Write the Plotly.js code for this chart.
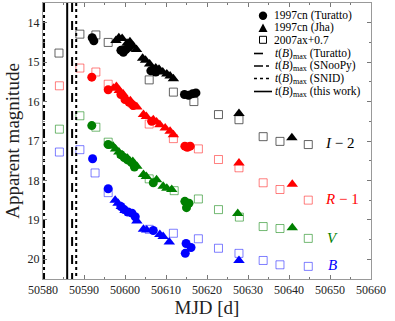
<!DOCTYPE html>
<html>
<head>
<meta charset="utf-8">
<script src="https://cdn.plot.ly/plotly-3.0.1.min.js"></script>
<style>body{margin:0;padding:0;background:#fff;} #plot{width:395px;height:321px;}</style>
</head>
<body>
<div id="plot"></div>
<script>
// plotted magnitudes (band offsets already applied: I-2, R-1, V, B)
var iTurMjd = [50592.0, 50592.4, 50599.0, 50599.6, 50600.2, 50601.0, 50606.3, 50607.0, 50607.5, 50614.5, 50615.5, 50616.5, 50617.3];
var iTurMag = [14.38, 14.46, 14.70, 14.75, 14.68, 14.62, 15.22, 15.18, 15.25, 15.82, 15.84, 15.80, 15.78];
var iJhaMjd = [50597.8, 50598.5, 50599.3, 50600.5, 50601.2, 50602.0, 50602.8, 50604.3, 50605.0, 50606.0, 50607.5, 50608.3, 50609.2, 50610.2, 50611.0, 50611.8, 50627.8, 50640.7];
var iJhaMag = [14.45, 14.38, 14.40, 14.52, 14.48, 14.60, 14.68, 14.90, 14.95, 15.05, 15.15, 15.18, 15.25, 15.30, 15.35, 15.42, 16.30, 16.92];
var iAxMjd = [50583.9, 50589.0, 50592.9, 50595.9, 50605.9, 50611.8, 50616.8, 50622.8, 50627.8, 50633.7, 50637.8, 50644.7];
var iAxMag = [14.77, 14.29, 14.31, 14.50, 15.45, 15.76, 16.00, 16.33, 16.46, 16.89, 17.01, 17.09];

var rTurMjd = [50591.9, 50595.9, 50599.0, 50600.0, 50601.0, 50602.0, 50606.5, 50614.6, 50615.2, 50615.9];
var rTurMag = [15.38, 15.70, 15.82, 15.95, 16.02, 16.10, 16.50, 17.13, 17.16, 17.13];
var rJhaMjd = [50597.2, 50597.9, 50598.6, 50599.5, 50600.4, 50601.3, 50602.1, 50602.9, 50604.5, 50605.2, 50606.9, 50607.7, 50608.5, 50609.8, 50611.0, 50611.8, 50627.8, 50640.8];
var rJhaMag = [15.66, 15.62, 15.72, 15.80, 15.95, 15.98, 16.08, 16.14, 16.33, 16.38, 16.46, 16.52, 16.59, 16.67, 16.75, 16.84, 17.56, 18.10];
var rAxMjd = [50584.0, 50589.0, 50592.9, 50595.9, 50605.9, 50611.8, 50617.9, 50622.8, 50627.8, 50633.7, 50637.8, 50644.7];
var rAxMag = [15.60, 15.15, 15.25, 15.56, 16.57, 16.94, 17.20, 17.47, 17.68, 18.06, 18.23, 18.50];

var vTurMjd = [50591.9, 50595.9, 50599.0, 50599.8, 50600.6, 50601.6, 50602.3, 50606.9, 50614.6, 50615.0, 50615.6];
var vTurMag = [16.61, 17.09, 17.35, 17.42, 17.48, 17.55, 17.66, 18.06, 18.53, 18.69, 18.58];
var vJhaMjd = [50597.1, 50597.7, 50598.5, 50599.4, 50600.6, 50601.9, 50602.9, 50604.5, 50605.2, 50607.7, 50609.3, 50610.2, 50611.4, 50627.5, 50640.8];
var vJhaMag = [17.13, 17.20, 17.28, 17.36, 17.44, 17.52, 17.64, 17.85, 17.90, 17.98, 18.15, 18.20, 18.23, 18.84, 19.20];
var vAxMjd = [50584.0, 50589.0, 50592.9, 50595.9, 50605.9, 50612.0, 50617.9, 50622.8, 50627.9, 50633.7, 50637.8, 50644.7];
var vAxMag = [16.70, 16.36, 16.65, 17.03, 17.96, 18.26, 18.47, 18.74, 18.93, 19.17, 19.22, 19.47];

var bTurMjd = [50592.1, 50595.9, 50599.0, 50599.8, 50600.7, 50601.7, 50602.5, 50606.9, 50614.9, 50616.1, 50614.7];
var bTurMag = [17.45, 18.21, 18.66, 18.74, 18.80, 18.83, 18.92, 19.27, 19.60, 19.70, 19.85];
var bJhaMjd = [50597.6, 50598.3, 50599.1, 50600.0, 50601.2, 50602.9, 50604.5, 50605.3, 50608.5, 50609.3, 50610.8, 50627.8];
var bJhaMag = [18.50, 18.58, 18.66, 18.76, 18.82, 19.03, 19.24, 19.26, 19.37, 19.42, 19.56, 20.03];
var bAxMjd = [50584.0, 50589.0, 50592.7, 50595.9, 50605.9, 50611.8, 50617.9, 50622.8, 50627.8, 50633.7, 50637.8, 50644.7];
var bAxMag = [17.28, 17.22, 17.81, 18.31, 19.24, 19.34, 19.48, 19.72, 19.85, 20.03, 20.14, 20.18];

// t(B)max estimates
var tmaxLabels = ['Turatto', 'SNooPy', 'SNID', 'this work'];
var tmaxValues = [50587.1, 50580.25, 50588.1, 50585.9];
var tmaxDash = ['dash', 'dashdot', 'dot', 'solid'];

var bandColors = ['black', 'red', 'green', 'blue'];
var squareColors = ['rgba(60,60,60,0.8)', 'rgba(255,0,0,0.5)', 'rgba(0,128,0,0.55)', 'rgba(0,0,255,0.5)'];
var bandSets = [
  [iTurMjd, iTurMag, iJhaMjd, iJhaMag, iAxMjd, iAxMag],
  [rTurMjd, rTurMag, rJhaMjd, rJhaMag, rAxMjd, rAxMag],
  [vTurMjd, vTurMag, vJhaMjd, vJhaMag, vAxMjd, vAxMag],
  [bTurMjd, bTurMag, bJhaMjd, bJhaMag, bAxMjd, bAxMag]
];

var data = [];
bandSets.forEach(function(s, k) {
  data.push({x: s[4], y: s[5], type: 'scatter', mode: 'markers', name: '2007ax+0.7',
    marker: {symbol: 'square-open', size: 8, color: squareColors[k], line: {width: 1, color: squareColors[k]}}});
  data.push({x: s[0], y: s[1], type: 'scatter', mode: 'markers', name: '1997cn (Turatto)',
    marker: {symbol: 'circle', size: 9, color: bandColors[k]}});
  data.push({x: s[2], y: s[3], type: 'scatter', mode: 'markers', name: '1997cn (Jha)',
    marker: {symbol: 'triangle-up', size: 10, color: bandColors[k]}});
});

tmaxValues.forEach(function(v, i) {
  data.push({x: [v, v], y: [13.5, 20.5], type: 'scatter', mode: 'lines',
    name: 't(B)max (' + tmaxLabels[i] + ')',
    line: {color: 'black', width: 2, dash: tmaxDash[i]}});
});

// band labels
var bandText = ['<i>I</i> \u2212 2', '<i>R</i> \u2212 1', '<i>V</i>', '<i>B</i>'];
var bandTextX = [50652.3, 50653.0, 50650.5, 50650.5];
var bandTextY = [17.05, 18.48, 19.45, 20.15];
var annotations = bandText.map(function(t, k) {
  return {x: bandTextX[k], y: bandTextY[k], text: t, showarrow: false, xanchor: 'center',
    font: {family: 'Liberation Serif, serif', size: 15, color: bandColors[k]}};
});

// hand-made compact legend (paper coordinates from pixel positions)
var L = 43, W = 328, B = 279, H = 276;
function xp(px) { return (px - L) / W; }
function yp(py) { return (B - py) / H; }
var legendText = ['1997cn (Turatto)', '1997cn (Jha)', '2007ax+0.7'].concat(
  tmaxLabels.map(function(s) { return '<i>t</i>(<i>B</i>)<sub>max</sub> (' + s + ')'; }));
var legendRowY = [15.7, 28.0, 39.8, 53.5, 66.0, 78.5, 91.5];
var shapes = [];
legendText.forEach(function(t, i) {
  annotations.push({xref: 'paper', yref: 'paper', x: xp(i < 3 ? 272 : 273), y: yp(legendRowY[i]),
    text: t, showarrow: false, xanchor: 'left', yanchor: 'middle',
    font: {family: 'Liberation Serif, serif', size: 11.5, color: 'black'}});
});
var cx = 263, r = 4.2;
shapes.push({type: 'circle', xref: 'paper', yref: 'paper', x0: xp(cx - r), x1: xp(cx + r),
  y0: yp(legendRowY[0] + r), y1: yp(legendRowY[0] - r), fillcolor: 'black', line: {width: 0}});
var ty = legendRowY[1];
shapes.push({type: 'path', xref: 'paper', yref: 'paper', fillcolor: 'black', line: {width: 0},
  path: 'M' + xp(cx - 4.5) + ',' + yp(ty + 4) + ' L' + xp(cx + 4.5) + ',' + yp(ty + 4) + ' L' + xp(cx) + ',' + yp(ty - 4.5) + ' Z'});
var sy = legendRowY[2];
shapes.push({type: 'rect', xref: 'paper', yref: 'paper', x0: xp(cx - 3.5), x1: xp(cx + 3.5),
  y0: yp(sy + 3.5), y1: yp(sy - 3.5), line: {width: 1, color: 'black'}});
tmaxDash.forEach(function(d, i) {
  shapes.push({type: 'line', xref: 'paper', yref: 'paper', x0: xp(254), x1: xp(272),
    y0: yp(legendRowY[3 + i]), y1: yp(legendRowY[3 + i]), line: {width: 1.6, color: 'black', dash: d}});
});

var layout = {
  width: 395, height: 321,
  margin: {l: 43, r: 24, t: 3, b: 42},
  paper_bgcolor: 'white', plot_bgcolor: 'white',
  font: {family: 'Liberation Serif, serif', size: 12, color: '#222'},
  showlegend: false,
  xaxis: {range: [50580, 50660], dtick: 10, tick0: 50580, ticks: 'inside', ticklen: 4,
    showgrid: false, zeroline: false, showline: true, mirror: 'ticks', linecolor: '#999',
    tickcolor: '#777', minor: {dtick: 5, ticks: 'inside', ticklen: 2, tickcolor: '#777'},
    tickformat: 'd', title: {text: 'MJD [d]', font: {size: 19}, standoff: 2}},
  yaxis: {range: [20.5, 13.5], dtick: 1, ticks: 'inside', ticklen: 4,
    showgrid: false, zeroline: false, showline: true, mirror: 'ticks', linecolor: '#999',
    tickcolor: '#777', minor: {dtick: 0.5, ticks: 'inside', ticklen: 2, tickcolor: '#777'},
    title: {text: 'Apparent magnitude', font: {size: 19}, standoff: 2}},
  annotations: annotations,
  shapes: shapes
};

Plotly.newPlot('plot', data, layout, {displayModeBar: false, staticPlot: true});
</script>
</body>
</html>
